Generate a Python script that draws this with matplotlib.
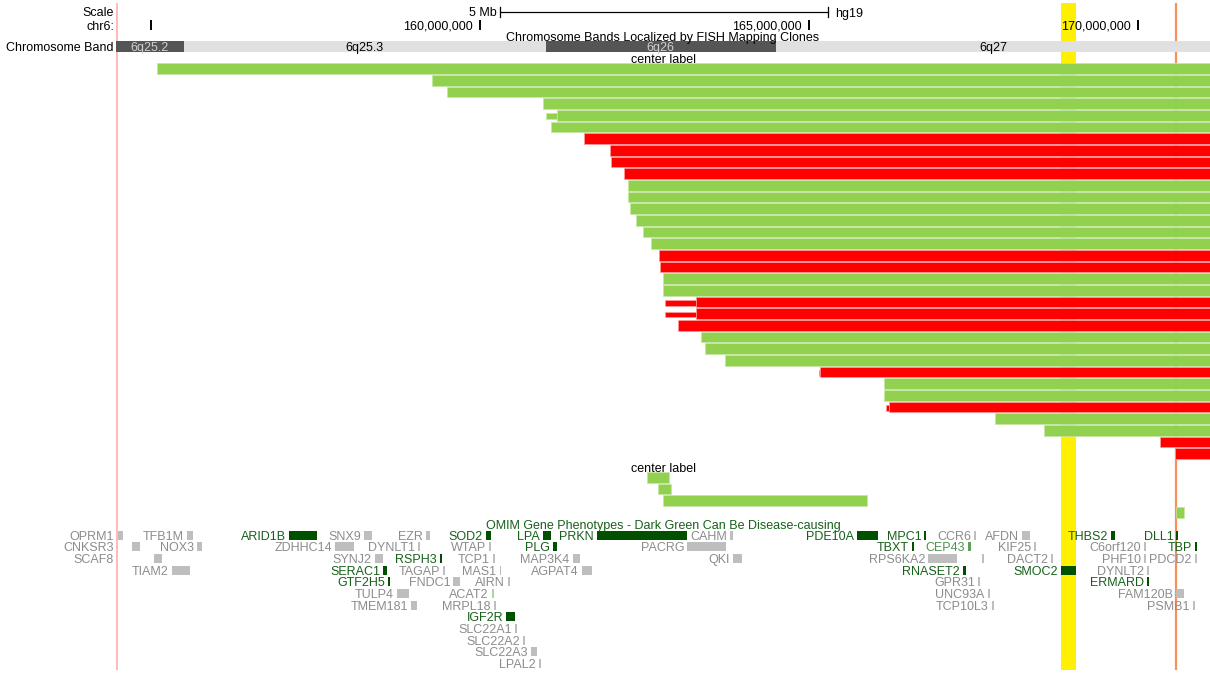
import matplotlib.pyplot as plt

plt.rcParams['font.family'] = ['Liberation Sans', 'DejaVu Sans']

# view on chr6 (Mb)
view_start, view_end = 154.47, 171.10

# chromosome bands
band_names = ['6q25.2', '6q25.3', '6q26', '6q27']
band_starts = [154.47, 155.50, 161.00, 164.50]
band_ends = [155.50, 161.00, 164.50, 171.10]
band_dark = [True, False, True, False]

# FISH mapping clones, first block (all run to the chromosome end)
clone_starts = [155.09, 159.27, 159.50, 160.96, 161.17, 161.09, 161.58, 161.98, 161.99,
                162.19, 162.25, 162.25, 162.29, 162.37, 162.48, 162.61, 162.72, 162.74,
                162.79, 162.79, 163.28, 163.28, 163.02, 163.36, 163.42, 163.73, 165.17,
                166.14, 166.15, 166.22, 167.83, 168.58, 170.34, 170.57]
clone_colors = 'GGGGGGRRRRGGGGGGRRGGRRRGGGRGGRGGRR'
# rows with a thinner leading part: row index -> thin start
clone_thin = {4: 161.00, 20: 162.82, 21: 162.82, 26: 165.15, 29: 166.17}
chrom_end = 171.10

# second block of clones
clone2_starts = [162.54, 162.71, 162.79, 170.59]
clone2_ends = [162.87, 162.91, 165.88, 170.70]

# OMIM genes: name, start, end, row, kind (d dark green, m mid green, g gray, a pale)
gene_names = ['OPRM1', 'TFB1M', 'ARID1B', 'SNX9', 'EZR', 'SOD2', 'LPA', 'PRKN', 'CAHM',
              'PDE10A', 'MPC1', 'CCR6', 'AFDN', 'THBS2', 'DLL1',
              'CNKSR3', 'NOX3', 'ZDHHC14', 'DYNLT1', 'WTAP', 'PLG', 'PACRG', 'TBXT',
              'CEP43', 'KIF25', 'C6orf120', 'TBP',
              'SCAF8', 'SYNJ2', 'RSPH3', 'TCP1', 'MAP3K4', 'QKI', 'RPS6KA2', '',
              'DACT2', 'PHF10', 'PDCD2',
              'TIAM2', 'SERAC1', 'TAGAP', 'MAS1', 'AGPAT4', 'RNASET2', 'SMOC2', 'DYNLT2',
              'GTF2H5', 'FNDC1', 'AIRN', 'GPR31', 'ERMARD',
              'TULP4', 'ACAT2', 'UNC93A', 'FAM120B',
              'TMEM181', 'MRPL18', 'TCP10L3', 'PSMB1',
              'IGF2R', 'SLC22A1', 'SLC22A2', 'SLC22A3', 'LPAL2']
gene_starts = [154.50, 155.55, 157.10, 158.24, 159.18, 160.09, 160.96, 161.78, 163.81,
               165.73, 166.76, 167.52, 168.24, 169.60, 170.59,
               154.71, 155.70, 157.80, 159.06, 160.14, 161.11, 163.15, 166.57,
               167.42, 168.42, 170.09, 170.87,
               155.05, 158.40, 159.39, 160.20, 161.41, 163.85, 166.82, 167.64,
               168.69, 170.09, 170.87,
               155.32, 158.53, 159.44, 160.30, 161.55, 167.34, 168.83, 170.14,
               158.60, 159.60, 160.43, 167.57, 170.14,
               158.74, 160.18, 167.72, 170.59,
               158.95, 160.21, 167.78, 170.84,
               160.40, 160.53, 160.65, 160.78, 160.90]
gene_ends = [154.57, 155.64, 157.52, 158.36, 159.24, 160.17, 161.09, 163.15, 163.85,
             166.06, 166.79, 167.55, 168.37, 169.65, 170.62,
             154.83, 155.77, 158.09, 159.09, 160.17, 161.17, 163.75, 166.60,
             167.46, 168.45, 170.12, 170.90,
             155.17, 158.53, 159.42, 160.23, 161.53, 163.98, 167.26, 167.67,
             168.72, 170.12, 170.90,
             155.59, 158.59, 159.47, 160.33, 161.70, 167.39, 169.07, 170.17,
             158.63, 159.70, 160.46, 167.60, 170.18,
             158.92, 160.21, 167.75, 170.71,
             159.04, 160.24, 167.81, 170.87,
             160.53, 160.56, 160.68, 160.87, 160.93]
gene_rows = [0] * 15 + [1] * 12 + [2] * 11 + [3] * 8 + [4] * 5 + [5] * 4 + [6] * 4 + \
            [7, 8, 9, 10, 11]
gene_kinds = ['g', 'g', 'd', 'g', 'g', 'd', 'd', 'd', 'g', 'd', 'd', 'g', 'g', 'd', 'd',
              'g', 'g', 'g', 'g', 'g', 'd', 'g', 'd', 'm', 'g', 'g', 'd',
              'g', 'g', 'd', 'g', 'g', 'g', 'g', 'g', 'g', 'g', 'g',
              'g', 'd', 'g', 'g', 'g', 'd', 'd', 'g',
              'd', 'g', 'g', 'g', 'd',
              'g', 'a', 'g', 'g',
              'g', 'g', 'g', 'g',
              'd', 'g', 'g', 'g', 'g']
margin_labels = {'OPRM1', 'CNKSR3', 'SCAF8'}

pos_ticks = [155, 160, 165, 170]
pos_labels = ['', '160,000,000', '165,000,000', '170,000,000']
highlight = (168.83, 169.07)
orange_pos = 170.59

W, H = 1210, 675
PT = 72 / 100  # points per pixel
fig = plt.figure(figsize=(W / 100, H / 100), dpi=100)
left_px = 116
ax = fig.add_axes([left_px / W, 0, 1 - left_px / W, 1])
ax.set_xlim(view_start, view_end)
ax.set_ylim(H, 0)
ax.axis('off')

FS = 9
CAP = 4.5  # half cap height in px
dark_text, dark_box = '#17601a', '#005000'
gray_text, gray_box = '#8c8c8c', '#bebebe'
mid = {'d': (dark_text, dark_box), 'g': (gray_text, gray_box),
       'm': ('#4f944f', '#5fa05f'), 'a': (gray_text, '#a9d3a9')}


def label(x, y, s, dx=0, **kw):
    ax.annotate(s, (x, y + CAP), xytext=(dx * PT, 0), textcoords='offset points',
                va='baseline', fontsize=FS, annotation_clip=False, **kw)


def mtext(px_y, s, **kw):
    fig.text(114 / W, 1 - (px_y + CAP) / H, s, ha='right', va='baseline', fontsize=FS, **kw)


# left margin labels
mtext(12, 'Scale')
mtext(25, 'chr6:')
mtext(46.5, 'Chromosome Band')

pitch = 11.67
row0 = 68.6
bars_top = row0 - 5.3


def covered_bottom(x):
    # bottom of the run of clone rows (from the top) that pass over position x
    n = 0
    for s in clone_starts:
        if s > x:
            break
        n += 1
    return row0 + (n - 1) * pitch + 5.3


# highlights
ax.axvspan(*highlight, ymin=1 - 670 / H, ymax=1 - 3.3 / H, color='#ffef00', lw=0, zorder=1)
ax.vlines(orange_pos, 3.3, 670, color='#f5925a', lw=1.6, zorder=1)
ax.vlines(view_start + 0.01, 3.3, 670, color='#ffb3b3', lw=1.3, zorder=1, clip_on=False)
# under the clone bars the highlights only show as a pale tint in the gaps
hb = covered_bottom(highlight[0])
ax.axvspan(*highlight, ymin=1 - hb / H, ymax=1 - bars_top / H,
           color='#b3e0d2', lw=0, zorder=2)
ax.vlines(orange_pos, bars_top, covered_bottom(orange_pos), color='#b3e0d2', lw=1.6, zorder=2)

# scale bar
sb0, sb1 = 160.30, 165.30
ax.plot([sb0, sb1], [11.5, 11.5], color='black', lw=0.9, zorder=3)
for x in (sb0, sb1):
    ax.plot([x, x], [6.5, 16.5], color='black', lw=0.9, zorder=3)
label(sb0, 11.5, '5 Mb', dx=-3, ha='right')
label(sb1, 12.5, 'hg19', dx=7, ha='left')

# position ticks
for p, s in zip(pos_ticks, pos_labels):
    ax.plot([p, p], [20.5, 28.5], color='black', lw=1.4, zorder=3)
    if s:
        label(p, 25, s, dx=-7, ha='right')

# bands
mid_x = (view_start + view_end) / 2
for n, s, e, d in zip(band_names, band_starts, band_ends, band_dark):
    ax.barh(46.2, e - s, left=s, height=11, color='#555555' if d else '#e0e0e0', zorder=2)
    label((s + e) / 2, 46.5, n, ha='center', color='#cfcfcf' if d else 'black', zorder=4)
label(mid_x, 36, 'Chromosome Bands Localized by FISH Mapping Clones', ha='center', zorder=5)
label(mid_x, 58.5, 'center label', ha='center')

# FISH clones, first block
colors = {'G': '#92d050', 'R': '#ff0000'}
edges = {'G': '#c6e6a6', 'R': '#ff9c9c'}
for i, (s, c) in enumerate(zip(clone_starts, clone_colors)):
    yc = row0 + i * pitch
    ax.barh(yc, chrom_end - s, left=s, height=10.6, color=colors[c],
            edgecolor=edges[c], lw=0.5, zorder=3)
    if i in clone_thin:
        t = clone_thin[i]
        ax.barh(yc + 0.8, s - t, left=t, height=5.5, color=colors[c],
                edgecolor=edges[c], lw=0.5, zorder=3)

# FISH clones, second block
label(mid_x, 467, 'center label', ha='center')
for i, (s, e) in enumerate(zip(clone2_starts, clone2_ends)):
    ax.barh(477.2 + i * pitch, e - s, left=s, height=10.6, color='#92d050',
            edgecolor=edges['G'], lw=0.5, zorder=3)

# OMIM genes
label(mid_x, 524.5, 'OMIM Gene Phenotypes - Dark Green Can Be Disease-causing',
      ha='center', color=dark_text, zorder=6)
for n, s, e, r, k in zip(gene_names, gene_starts, gene_ends, gene_rows, gene_kinds):
    yc = 535 + r * pitch
    tc, bc = mid[k]
    ax.barh(yc, max(e - s, 0.025), left=s, height=9, color=bc, zorder=5)
    if not n:
        continue
    if n in margin_labels:
        mtext(yc, n, color=tc)
    else:
        label(s, yc, n, dx=-3, ha='right', color=tc, zorder=4)

fig.savefig('out.png', dpi=100)
